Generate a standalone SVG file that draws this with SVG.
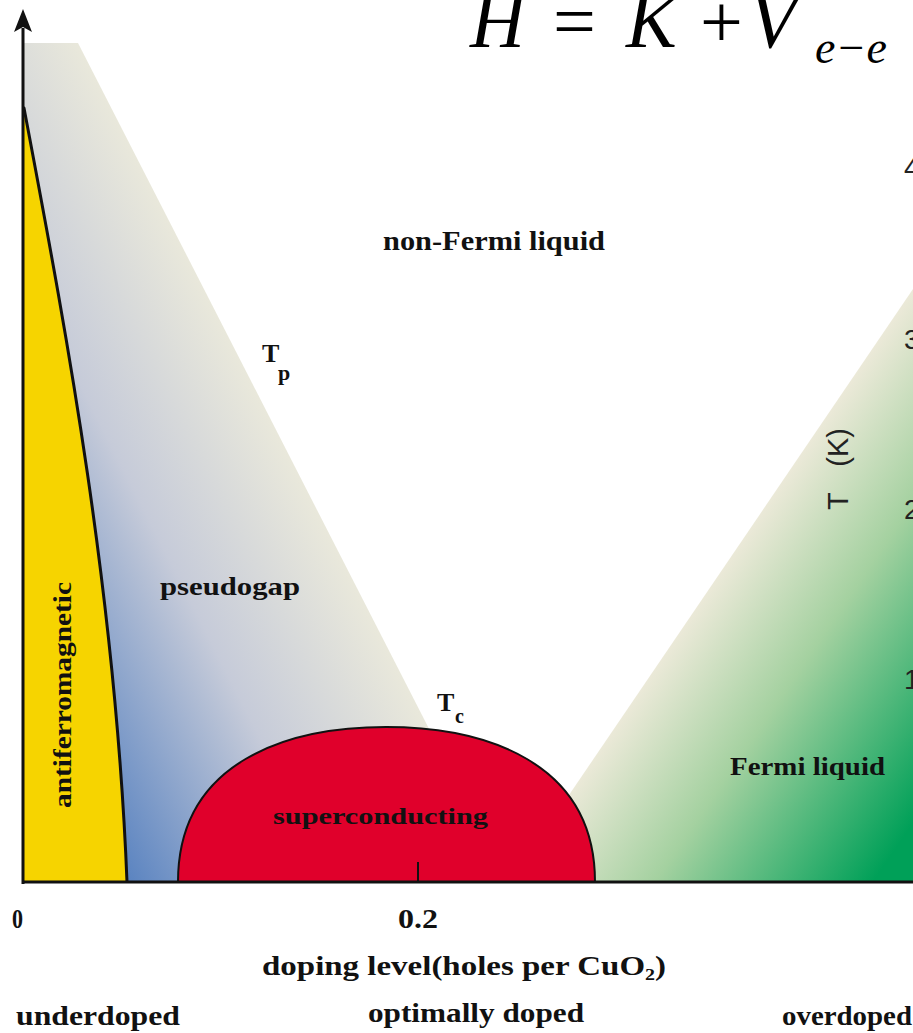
<svg xmlns="http://www.w3.org/2000/svg" width="913" height="1033" viewBox="0 0 913 1033">
<style>
.lbl{font-family:"Liberation Serif",serif;font-weight:bold;fill:#111;}
.sans{font-family:"Liberation Sans",sans-serif;fill:#222;}
.math{font-family:"Liberation Serif",serif;fill:#000;}
.edge{fill:none;stroke:#111;stroke-linejoin:round;}
</style>
<defs>
<linearGradient id="gPseudo" gradientUnits="userSpaceOnUse" x1="425" y1="725" x2="122" y2="879">
<stop offset="0" stop-color="#e9e8db"/>
<stop offset="0.45" stop-color="#c6cbd9"/>
<stop offset="1" stop-color="#5882c0"/>
</linearGradient>
<linearGradient id="gFermi" gradientUnits="userSpaceOnUse" x1="702" y1="600" x2="950" y2="769">
<stop offset="0" stop-color="#ebe9d8"/>
<stop offset="0.4" stop-color="#a4d1a0"/>
<stop offset="1" stop-color="#00a058"/>
</linearGradient>
</defs>
<rect width="913" height="1033" fill="#fff"/>

<g id="pseudogap-region">
<polygon points="23,43 78,43 445,760 300,882 23,882" fill="url(#gPseudo)"/>
</g>
<g id="fermi-region">
<polygon points="913,289 535,845 535,882 913,882" fill="url(#gFermi)"/>
</g>
<g id="antiferromagnetic-region">
<path d="M23,108 L24,108 C60,300 115,580 127,882 L23,882 Z" fill="#f6d400"/>
<path class="edge" d="M23,108 L24,108 C60,300 115,580 127,882" stroke-width="3"/>
</g>
<g id="superconducting-region">
<path d="M178,882 C178,760 290,727 386,727 C482,727 595,760 595,882 Z" fill="#e0002b" stroke="#111" stroke-width="2"/>
</g>

<g id="axes">
<line x1="23" y1="28" x2="23" y2="884" stroke="#111" stroke-width="3"/>
<polygon points="23,9 32,32 23,27 14,32" fill="#111"/>
<line x1="22" y1="882" x2="913" y2="882" stroke="#111" stroke-width="3"/>
<line x1="418" y1="862" x2="418" y2="882" stroke="#111" stroke-width="2"/>
</g>

<g id="labels">
<text class="lbl" x="383" y="250" font-size="27" textLength="222" lengthAdjust="spacingAndGlyphs">non-Fermi liquid</text>
<text class="lbl" x="262" y="362" font-size="26">T<tspan x="278" y="380" font-size="22">p</tspan></text>
<text class="lbl" x="160" y="595" font-size="25" textLength="140" lengthAdjust="spacingAndGlyphs">pseudogap</text>
<text class="lbl" x="437" y="711" font-size="26">T<tspan x="455" y="723" font-size="20">c</tspan></text>
<text class="lbl" x="273" y="824" font-size="24" textLength="215" lengthAdjust="spacingAndGlyphs">superconducting</text>
<text class="lbl" transform="translate(71,808) rotate(-90)" font-size="25" textLength="226" lengthAdjust="spacingAndGlyphs">antiferromagnetic</text>
<text class="lbl" x="730" y="775" font-size="25" textLength="155" lengthAdjust="spacingAndGlyphs">Fermi liquid</text>
<text class="sans" transform="translate(848,510) rotate(-90)" font-size="29">T<tspan dx="18"> (K)</tspan></text>
<text class="sans" x="904" y="177" font-size="28">4</text>
<text class="sans" x="904" y="349" font-size="28">3</text>
<text class="sans" x="904" y="519" font-size="28">2</text>
<text class="sans" x="904" y="689" font-size="28">1</text>
<text class="lbl" x="12" y="928" font-size="28" textLength="11" lengthAdjust="spacingAndGlyphs">0</text>
<text class="lbl" x="398" y="928" font-size="28" textLength="40" lengthAdjust="spacingAndGlyphs">0.2</text>
<text class="lbl" x="262" y="975" font-size="28" textLength="404" lengthAdjust="spacingAndGlyphs">doping level(holes per CuO<tspan dy="5" font-size="17">2</tspan><tspan dy="-5">)</tspan></text>
<text class="lbl" x="16" y="1025" font-size="28" textLength="164" lengthAdjust="spacingAndGlyphs">underdoped</text>
<text class="lbl" x="368" y="1022" font-size="28" textLength="216" lengthAdjust="spacingAndGlyphs">optimally doped</text>
<text class="lbl" x="782" y="1025" font-size="28" textLength="130" lengthAdjust="spacingAndGlyphs">overdoped</text>
</g>

<g id="formula">
<text class="math" x="470" y="47" font-size="76" font-style="italic">H</text>
<text class="math" x="553" y="47" font-size="76">=</text>
<text class="math" x="626" y="47" font-size="76" font-style="italic">K</text>
<text class="math" x="700" y="47" font-size="76">+</text>
<text class="math" x="749" y="47" font-size="78" font-style="italic">V</text>
<text class="math" x="815" y="63" font-size="46" font-style="italic">e−e</text>
</g>
</svg>
